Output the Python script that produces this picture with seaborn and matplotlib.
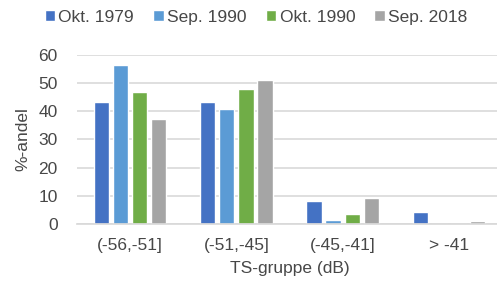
import pandas as pd
import seaborn as sns
import matplotlib.pyplot as plt

# Data
groups = ['(-56,-51]', '(-51,-45]', '(-45,-41]', '> -41']
series = ['Okt. 1979', 'Sep. 1990', 'Okt. 1990', 'Sep. 2018']
okt_1979 = [43.3, 43.3, 8.0, 4.2]
sep_1990 = [56.5, 40.8, 1.3, 0.0]
okt_1990 = [46.8, 48.0, 3.4, 0.0]
sep_2018 = [37.1, 51.2, 9.4, 1.0]
colors = ['#4472C4', '#5B9BD5', '#70AD47', '#A5A5A5']

df = pd.DataFrame({
    'gruppe': groups * 4,
    'serie': [s for s in series for _ in groups],
    'andel': okt_1979 + sep_1990 + okt_1990 + sep_2018,
})

sns.set_theme(style='white')
plt.rcParams['font.family'] = ['Liberation Sans', 'DejaVu Sans']
text_col = '#474747'
fs = 12.5

fig = plt.figure(figsize=(4.97, 2.87), dpi=100)
ax = fig.add_axes([0.155, 0.2195, 0.855, 0.589])

sns.barplot(data=df, x='gruppe', y='andel', hue='serie', order=groups,
            hue_order=series, palette=colors, width=0.72, gap=0.2,
            saturation=1, ax=ax)

ax.set_ylim(0, 60)
ax.set_xlim(-0.5, 3.5)
ax.set_yticks(range(0, 61, 10))
ax.yaxis.grid(True, color='#D9D9D9', linewidth=1.2)
ax.set_axisbelow(True)
for side in ['top', 'right', 'left']:
    ax.spines[side].set_visible(False)
ax.spines['bottom'].set_color('#D9D9D9')
ax.tick_params(axis='both', length=0, labelsize=fs, colors=text_col)
ax.tick_params(axis='y', pad=14)
ax.tick_params(axis='x', pad=10)
ax.set_xlabel('TS-gruppe (dB)', fontsize=fs, color=text_col, labelpad=6)
ax.set_ylabel('%-andel', fontsize=fs, color=text_col, labelpad=6)

ax.legend(loc='center', ncol=4, frameon=False, fontsize=fs,
          handlelength=0.6, handleheight=0.6, handletextpad=0.2,
          columnspacing=1.1, labelcolor=text_col)
ax.get_legend().set_bbox_to_anchor((0.515, 0.94), transform=fig.transFigure)

fig.savefig('out.png', dpi=100)
